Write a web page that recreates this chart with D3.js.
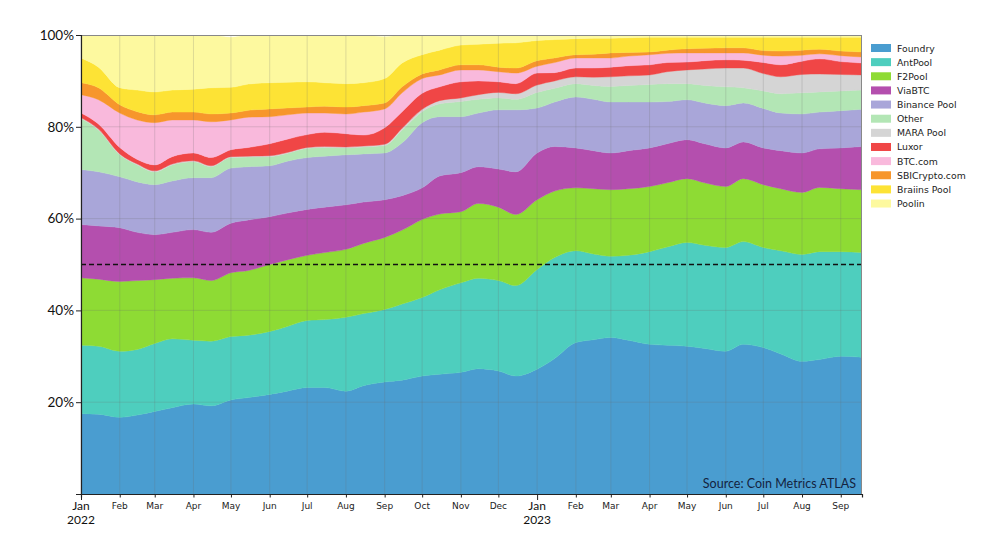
<!DOCTYPE html>
<html>
<head>
<meta charset="utf-8">
<script src="https://cdn.jsdelivr.net/npm/d3@7"></script>
<style>
  html, body { margin: 0; padding: 0; background: #fff; }
  svg { display: block; }
</style>
</head>
<body>
<svg id="chart" width="983" height="547"></svg>
<script>
const dates = ["2022-01-01","2022-01-15","2022-02-01","2022-02-15","2022-03-01","2022-03-15","2022-04-01","2022-04-15","2022-05-01","2022-05-15","2022-06-01","2022-06-15","2022-07-01","2022-07-15","2022-08-01","2022-08-15","2022-09-01","2022-09-15","2022-10-01","2022-10-15","2022-11-01","2022-11-15","2022-12-01","2022-12-15","2023-01-01","2023-01-15","2023-02-01","2023-02-15","2023-03-01","2023-03-15","2023-04-01","2023-04-15","2023-05-01","2023-05-15","2023-06-01","2023-06-15","2023-07-01","2023-07-15","2023-08-01","2023-08-15","2023-09-01","2023-09-18"];

const pools = ["Foundry","AntPool","F2Pool","ViaBTC","Binance Pool","Other","MARA Pool","Luxor","BTC.com","SBICrypto.com","Braiins Pool","Poolin"];
const colors = ["#4a9dd0","#4ecebe","#8edb34","#b44fae","#a9a6d9","#b3e6b5","#d5d5d5","#f04646","#f9b9dc","#f7962c","#fde335","#fdf99f"];

const foundry = [17.5,17.4,16.7,17.2,18.0,18.8,19.6,19.2,20.5,21.0,21.7,22.4,23.2,23.2,22.4,23.6,24.4,24.8,25.7,26.1,26.5,27.3,26.8,25.7,27.2,29.5,33.0,33.6,34.1,33.5,32.6,32.4,32.2,31.7,31.1,32.6,31.9,30.5,28.9,29.3,30.0,29.8];
const antpool = [14.9,14.8,14.4,14.3,14.8,15.0,13.9,14.1,13.8,13.6,13.7,14.1,14.6,14.8,16.1,15.7,15.8,16.6,17.1,18.4,19.5,19.7,19.7,19.7,21.7,22.0,20.0,18.7,17.7,18.5,20.2,21.4,22.6,22.5,22.6,22.4,21.8,22.5,23.3,23.5,22.8,22.8];
const f2pool = [14.7,14.6,15.2,15.0,13.9,13.2,13.6,13.2,13.9,14.1,14.6,14.5,14.2,14.6,14.8,15.3,15.7,16.1,17.0,16.5,15.5,16.3,16.0,15.5,15.2,14.5,13.7,14.2,14.5,14.5,14.2,14.0,13.9,13.6,13.3,13.7,13.7,13.5,13.5,14.0,13.7,13.7];
const viabtc = [11.6,11.6,11.7,10.5,9.8,10.0,10.5,10.5,10.8,11.0,10.4,10.2,10.0,9.9,9.7,9.0,8.2,7.5,6.9,8.3,8.5,8.0,8.3,9.3,10.2,9.7,8.7,8.3,8.0,8.3,8.4,8.5,8.5,8.5,8.4,8.0,8.0,8.3,8.6,8.4,8.9,9.4];
const binance = [12.0,11.8,11.1,11.0,10.9,11.2,11.3,11.9,12.0,11.6,11.1,11.3,11.3,11.1,10.9,10.5,10.2,11.5,14.2,12.9,12.2,11.7,12.9,13.5,9.8,9.7,11.1,11.2,11.1,10.6,10.0,9.2,8.7,8.9,9.2,8.5,8.6,8.2,8.5,8.0,8.1,8.1];
const other = [11.1,9.1,4.8,3.7,2.8,3.5,3.5,2.4,2.3,2.1,2.0,1.7,2.0,1.9,1.5,1.5,1.6,2.8,2.4,2.8,3.3,3.0,2.6,2.3,3.4,3.0,2.9,3.0,3.4,3.6,3.8,3.9,3.5,3.8,4.1,3.3,3.8,4.2,4.6,4.4,4.3,4.2];
const mara = [0.2,0.2,0.2,0.2,0.2,0.2,0.2,0.2,0.2,0.2,0.2,0.2,0.2,0.2,0.2,0.2,0.3,0.4,0.5,0.7,0.8,1.0,1.2,1.2,1.6,1.6,1.5,1.8,2.1,2.1,2.1,2.6,3.0,3.6,4.1,4.3,3.8,3.7,4.0,3.9,3.6,3.3];
const luxor = [1.0,1.1,1.4,1.0,1.3,1.6,1.7,1.8,1.5,1.9,2.6,2.9,2.8,3.1,2.9,2.4,3.6,3.6,3.5,3.0,3.5,3.0,2.3,2.2,2.6,1.8,1.9,2.0,2.1,2.2,2.2,2.0,1.7,1.8,1.8,1.7,2.4,2.6,2.9,3.3,2.8,2.6];
const btccom = [4.0,5.3,7.5,8.6,9.2,8.0,7.2,7.8,6.5,6.6,5.9,5.3,4.7,4.2,4.3,5.0,4.1,4.1,3.2,2.6,2.6,2.4,2.2,2.3,1.5,2.2,2.2,2.2,2.0,2.1,2.2,2.0,2.0,1.7,1.5,1.6,1.6,1.9,1.3,1.1,1.3,1.3];
const sbicrypto = [2.6,2.6,1.8,1.8,1.7,1.7,1.7,1.7,1.5,1.5,1.7,1.5,1.3,1.5,1.5,1.4,1.3,1.3,1.0,1.1,1.1,1.1,1.0,1.1,1.2,1.0,0.7,0.8,1.1,0.8,0.6,0.7,0.9,1.0,1.1,1.1,1.0,1.1,1.1,1.0,1.0,1.1];
const braiins = [5.4,4.5,3.7,4.7,5.0,4.8,5.0,5.7,5.6,5.7,5.7,5.6,5.5,5.1,5.1,5.0,5.3,5.2,4.2,4.3,4.3,4.5,5.2,5.5,4.4,4.0,3.5,3.5,3.2,3.2,3.2,2.8,2.5,2.4,2.3,2.3,2.9,3.0,2.8,2.6,3.0,3.2];
const poolin = [5.0,7.0,11.5,12.0,12.4,12.0,11.8,11.5,10.9,10.7,10.4,10.3,10.2,10.4,10.6,10.4,9.1,6.1,4.3,3.3,2.2,2.0,1.8,1.7,1.2,1.0,0.8,0.7,0.7,0.6,0.5,0.5,0.5,0.5,0.5,0.5,0.5,0.5,0.5,0.5,0.5,0.5];

const yTicks = [20, 40, 60, 80, 100];
const sourceText = "Source: Coin Metrics ATLAS";
const threshold = 50;

const seriesValues = [foundry, antpool, f2pool, viabtc, binance, other, mara, luxor, btccom, sbicrypto, braiins, poolin];
const parse = d3.timeParse("%Y-%m-%d");
const table = dates.map((d, i) => {
  const row = { date: parse(d) };
  pools.forEach((p, k) => { row[p] = seriesValues[k][i]; });
  return row;
});

const svg = d3.select("#chart");
const L = 81, R = 862, T = 35, B = 494;

const x = d3.scaleTime().domain([parse(dates[0]), parse(dates[dates.length - 1])]).range([L, R]);
const y = d3.scaleLinear().domain([0, 100]).range([B, T]);

const stack = d3.stack().keys(pools).order(d3.stackOrderNone).offset(d3.stackOffsetNone);
const layers = stack(table);

const area = d3.area()
  .x(d => x(d.data.date))
  .y0(d => y(d[0]))
  .y1(d => y(d[1]))
  .curve(d3.curveMonotoneX);

svg.append("defs").append("clipPath").attr("id", "clip")
  .append("rect").attr("x", L).attr("y", T).attr("width", R - L).attr("height", B - T);

const plot = svg.append("g").attr("clip-path", "url(#clip)");
plot.selectAll("path.layer").data(layers).join("path")
  .attr("class", "layer")
  .attr("d", area)
  .attr("fill", (d, i) => colors[i])
  .attr("stroke", (d, i) => colors[i])
  .attr("stroke-width", 0.4);

// grid
const months = d3.timeMonth.range(parse("2022-01-01"), d3.timeDay.offset(x.domain()[1], 1));
const grid = svg.append("g");
grid.selectAll("line.vg").data(months).join("line")
  .attr("x1", d => x(d)).attr("x2", d => x(d))
  .attr("y1", T).attr("y2", B)
  .attr("stroke", "#6f6f6f").attr("stroke-opacity", 0.22).attr("stroke-width", 1);
grid.selectAll("line.hg").data(yTicks.filter(v => v < 100)).join("line")
  .attr("x1", L).attr("x2", R)
  .attr("y1", d => y(d)).attr("y2", d => y(d))
  .attr("stroke", "#6f6f6f").attr("stroke-opacity", 0.22).attr("stroke-width", 1);

// 50% dashed line
svg.append("line")
  .attr("x1", L).attr("x2", R)
  .attr("y1", y(threshold)).attr("y2", y(threshold))
  .attr("stroke", "#111").attr("stroke-width", 1.3)
  .attr("stroke-dasharray", "5,3");

// frame
svg.append("line").attr("x1", L).attr("x2", R).attr("y1", T + 0.5).attr("y2", T + 0.5).attr("stroke", "#888").attr("stroke-width", 1);
svg.append("line").attr("x1", R - 0.5).attr("x2", R - 0.5).attr("y1", T).attr("y2", B).attr("stroke", "#888").attr("stroke-width", 1);

// y axis
const yAxis = d3.axisLeft(y).tickValues(yTicks).tickSize(5).tickFormat(d => d + "%");
const gy = svg.append("g").attr("transform", `translate(${L},0)`).call(yAxis);
gy.select(".domain").attr("stroke", "#222").attr("stroke-width", 1.2);
gy.selectAll(".tick line").attr("stroke", "#222");
gy.selectAll(".tick text")
  .attr("font-family", "Lato, sans-serif").attr("font-size", 13.5).attr("fill", "#111").attr("x", -7);

// x axis
const xAxis = d3.axisBottom(x).tickValues(months).tickSize(3.5).tickFormat(() => "");
const gx = svg.append("g").attr("transform", `translate(0,${B})`).call(xAxis);
gx.select(".domain").attr("stroke", "#222").attr("stroke-width", 1.2);
gx.selectAll(".tick line").attr("stroke", "#222").attr("y2", d => d.getMonth() === 0 ? 6 : 3.5);

const labels = svg.append("g");
months.forEach(m => {
  if (m.getMonth() === 0) {
    labels.append("text").attr("x", x(m)).attr("y", B + 16)
      .attr("text-anchor", "middle").attr("font-family", "Lato, sans-serif").attr("font-size", 12).attr("fill", "#111")
      .text(d3.timeFormat("%b")(m));
    labels.append("text").attr("x", x(m)).attr("y", B + 30)
      .attr("text-anchor", "middle").attr("font-family", "Lato, sans-serif").attr("font-size", 12).attr("fill", "#111")
      .text(d3.timeFormat("%Y")(m));
  } else {
    labels.append("text").attr("x", x(m)).attr("y", B + 15)
      .attr("text-anchor", "middle").attr("font-family", "DejaVu Sans, sans-serif").attr("font-size", 9).attr("fill", "#222")
      .text(d3.timeFormat("%b")(m));
  }
});

// source
svg.append("text").attr("x", R - 6).attr("y", B - 6)
  .attr("text-anchor", "end").attr("font-family", "Lato, sans-serif").attr("font-size", 12.5).attr("fill", "#14233f")
  .text(sourceText);

// legend
const lg = svg.append("g").attr("transform", "translate(871,48)");
pools.forEach((p, i) => {
  const row = lg.append("g").attr("transform", `translate(0,${i * 14.14})`);
  row.append("rect").attr("x", 0).attr("y", -4).attr("width", 20).attr("height", 8).attr("fill", colors[i]);
  row.append("text").attr("x", 26).attr("y", 3.5)
    .attr("font-family", "DejaVu Sans, sans-serif").attr("font-size", 9.3).attr("fill", "#222").text(p);
});
</script>
</body>
</html>
